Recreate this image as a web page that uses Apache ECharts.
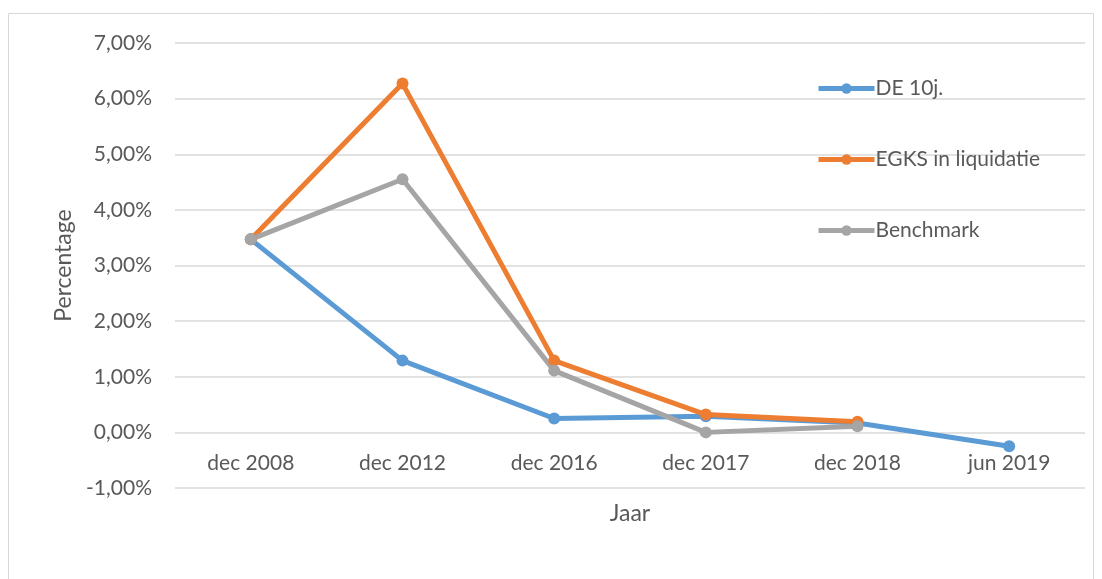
<!DOCTYPE html>
<html><head><meta charset="utf-8">
<script src="https://cdn.jsdelivr.net/npm/echarts@6/dist/echarts.min.js"></script>
<style>html,body{margin:0;padding:0;background:#fff}#c{width:1102px;height:579px}</style>
</head><body><div id="c"></div>
<script>
const categories = ['dec 2008','dec 2012','dec 2016','dec 2017','dec 2018','jun 2019'];
const de10 = [3.47, 1.29, 0.25, 0.29, 0.17, -0.25];
const egks = [3.47, 6.27, 1.29, 0.32, 0.19, null];
const benchmark = [3.47, 4.55, 1.11, 0.00, 0.11, null];
const seriesNames = ['DE 10j.', 'EGKS in liquidatie', 'Benchmark'];
const colors = ['#5b9bd5', '#ed7d31', '#a5a5a5'];
const yMin = -1, yMax = 7, yStep = 1;

const FONT = 'Lato';
const W = 1102, H = 579;
const gridTop = 43, gridBottom = 91;
const plotH = H - gridTop - gridBottom;
// place the category axis where the value axis crosses zero (as in the original)
const zeroOffset = -((0 - yMin) / (yMax - yMin)) * plotH;

const chart = echarts.init(document.getElementById('c'));
const mk = (name, data, color) => ({
  name, type: 'line', data, color,
  symbol: 'circle', symbolSize: 12,
  lineStyle: { width: 5, color },
  itemStyle: { color },
  connectNulls: false
});
chart.setOption({
  animation: false,
  textStyle: { fontFamily: FONT },
  graphic: [{ type: 'rect', shape: { x: 8.5, y: 13.5, width: 1085, height: 620 },
    style: { fill: 'none', stroke: '#d9d9d9', lineWidth: 1 }, silent: true }],
  grid: { left: 175, right: 17, top: gridTop, bottom: gridBottom },
  legend: {
    orient: 'vertical', left: 811, top: 73, itemGap: 50,
    itemWidth: 56, itemHeight: 13,
    lineStyle: { width: 5 },
    textStyle: { fontFamily: FONT, fontSize: 21, color: '#595959', padding: [0,0,0,-4] },
    data: seriesNames
  },
  xAxis: {
    type: 'category', data: categories, boundaryGap: true,
    position: 'bottom', offset: zeroOffset,
    axisLine: { show: false, onZero: false },
    axisTick: { show: false },
    axisLabel: { fontSize: 21, color: '#595959', margin: 20 },
    name: 'Jaar', nameLocation: 'middle', nameGap: 70,
    nameTextStyle: { fontSize: 23, color: '#595959' }
  },
  yAxis: {
    type: 'value', min: yMin, max: yMax, interval: yStep,
    axisLabel: { fontSize: 21, color: '#595959', margin: 23,
      formatter: v => v.toFixed(2).replace('.', ',') + '%' },
    splitLine: { lineStyle: { color: '#d9d9d9', width: 1.5 } },
    axisLine: { show: false }, axisTick: { show: false },
    name: 'Percentage', nameLocation: 'middle', nameGap: 100,
    nameTextStyle: { fontSize: 23, color: '#595959' }
  },
  series: [mk(seriesNames[0], de10, colors[0]), mk(seriesNames[1], egks, colors[1]), mk(seriesNames[2], benchmark, colors[2])]
});
</script></body></html>
